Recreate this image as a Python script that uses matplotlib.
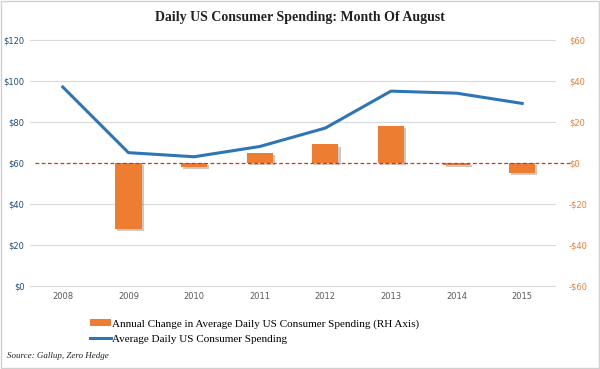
import matplotlib
matplotlib.use("Agg")
import matplotlib.pyplot as plt
import matplotlib.patheffects as pe
from matplotlib.patches import Patch
from matplotlib.lines import Line2D

years = ["2008", "2009", "2010", "2011", "2012", "2013", "2014", "2015"]
avg_spending = [97, 65, 63, 68, 77, 95, 94, 89]
annual_change = [None, -32, -2, 5, 9, 18, -1, -5]

left_ticks = [0, 20, 40, 60, 80, 100, 120]
right_ticks = [-60, -40, -20, 0, 20, 40, 60]

BLUE = "#2E75B6"
ORANGE = "#ED7D31"
SERIF = ["Liberation Serif", "DejaVu Serif"]

fig = plt.figure(figsize=(6, 3.69), dpi=100)
fig.patches.append(plt.Rectangle((0.002, 0.003), 0.996, 0.994, transform=fig.transFigure,
                                 fill=False, edgecolor="#D0D0D0", linewidth=1))

ax = fig.add_axes([0.05, 0.225, 0.875, 0.667])
ax2 = ax.twinx()

x = list(range(len(years)))

# light gridlines (not at zero, where the red dashed line sits)
for t in right_ticks:
    if t != 0:
        ax2.axhline(t, color="#D9D9D9", linewidth=0.8, zorder=1, clip_on=False)

# bars on right axis
bx = [i for i, v in zip(x, annual_change) if v is not None]
bv = [v for v in annual_change if v is not None]
bars = ax2.bar(bx, bv, width=0.4, color=ORANGE, zorder=3)
for b in bars:
    b.set_path_effects([pe.SimplePatchShadow(offset=(1.5, -1.5), alpha=0.25), pe.Normal()])

# line on left axis (drawn above bars)
ax.axhline(60, xmin=0.01, xmax=1.03, color="#E8281E", linestyle=(0, (3, 2)),
           linewidth=0.9, zorder=4, clip_on=False)
ax.plot(x, avg_spending, color=BLUE, linewidth=2.2, zorder=5)

ax.set_ylim(0, 120)
ax2.set_ylim(-60, 60)
ax.set_xlim(-0.5, len(years) - 0.5)
ax.set_yticks(left_ticks)
ax.set_yticklabels([f"${v}" for v in left_ticks])
ax2.set_yticks(right_ticks)
ax2.set_yticklabels([f"-${-v}" if v < 0 else f"${v}" for v in right_ticks])
ax.set_xticks(x)
ax.set_xticklabels(years)

for a in (ax, ax2):
    for s in a.spines.values():
        s.set_visible(False)
ax.tick_params(axis="y", length=0, labelsize=6, labelcolor="#1F4E79", pad=4)
ax2.tick_params(axis="y", length=0, labelsize=6, labelcolor=ORANGE, pad=10)
ax.tick_params(axis="x", length=0, labelsize=6, labelcolor="#595959", pad=4)

ax.set_zorder(ax2.get_zorder() + 1)
ax.patch.set_visible(False)

fig.text(0.5, 0.952, "Daily US Consumer Spending: Month Of August", ha="center", va="center",
         fontsize=10, fontweight="bold", family=SERIF, color="#222222")

handles = [Patch(facecolor=ORANGE, edgecolor="none"),
           Line2D([0], [0], color=BLUE, linewidth=2.2)]
labels = ["Annual Change in Average Daily US Consumer Spending (RH Axis)",
          "Average Daily US Consumer Spending"]
fig.legend(handles, labels, loc="center left", bbox_to_anchor=(0.14, 0.102), frameon=False,
           prop={"family": SERIF, "size": 8}, handlelength=1.9, handleheight=0.5,
           handletextpad=0.1, labelspacing=0.55, borderpad=0)

fig.text(0.012, 0.035, "Source: Gallup, Zero Hedge", ha="left", va="center", fontsize=6.5,
         style="italic", family=SERIF, color="#222222")

fig.savefig("out.png", dpi=100)
